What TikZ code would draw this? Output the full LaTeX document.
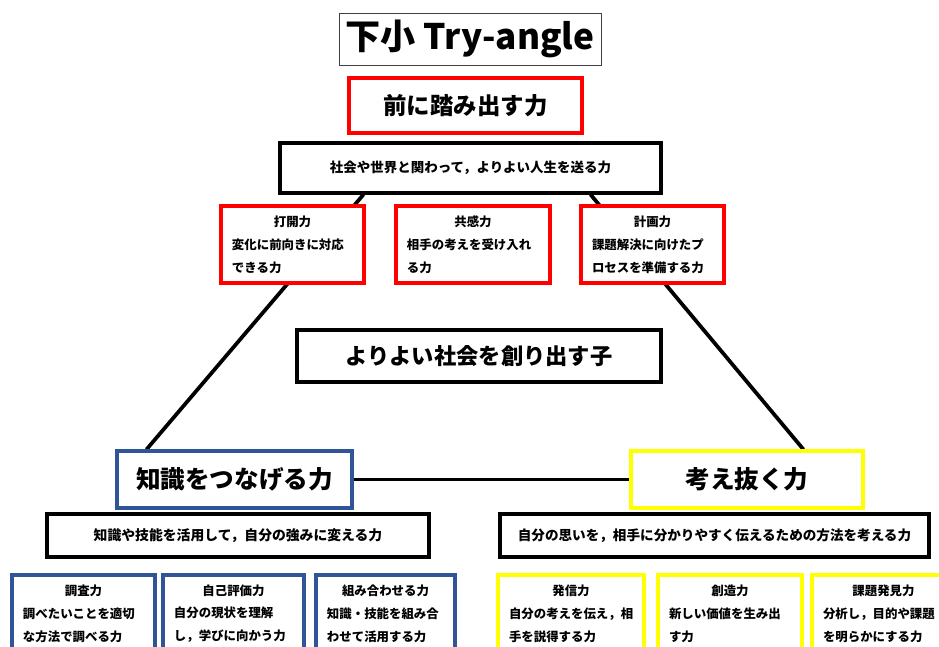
\documentclass[tikz,border=0pt]{standalone}
\usepackage{fontspec}
\setmainfont{Noto Sans CJK JP}
\usetikzlibrary{calc,backgrounds}

\definecolor{tryred}{RGB}{255,0,0}
\definecolor{tryblue}{RGB}{47,85,151}
\definecolor{tryyellow}{RGB}{255,255,0}

\begin{document}
\begin{tikzpicture}[x=0.03cm,y=-0.03cm,
	bigbox/.style={fill=white,line width=2.6pt,inner sep=0pt},
	skillbox/.style={fill=white,line width=2.6pt,inner sep=0pt,align=left,
		minimum height=2.31cm,font=\fontsize{10.6}{19.5}\selectfont\bfseries},
	side/.style={line width=3.2pt},
	]
	\clip (0,0) rectangle (939,647);

	% top
	\node[draw=black!75,line width=0.8pt,fill=white,minimum width=7.86cm,minimum height=1.56cm,
		font=\fontsize{30}{33}\selectfont\bfseries] (title) at (470,39) {下小 Try-angle};
	\node[bigbox,draw=tryred,minimum width=6.99cm,minimum height=1.65cm,
		font=\fontsize{20}{24}\selectfont\bfseries] (mae) at (465.5,105.5) {前に踏み出す力};
	\node[bigbox,draw=black,minimum width=11.43cm,minimum height=1.5cm,
		font=\fontsize{11.5}{14}\selectfont\bfseries] (shakai) at (470.5,168) {社会や世界と関わって，よりよい人生を送る力};

	\begin{scope}[every node/.style={skillbox,draw=tryred}]
		\node[minimum width=4.29cm,text width=3.63cm] (dakai) at (292.5,244.5)
			{{\centering 打開力\par}変化に前向きに対応\\できる力};
		\node[minimum width=4.62cm,text width=3.96cm] (kyokan) at (473,244.5)
			{{\centering 共感力\par}相手の考えを受け入れ\\る力};
		\node[minimum width=4.29cm,text width=3.63cm] (keikaku) at (652.5,244.5)
			{{\centering 計画力\par}課題解決に向けたプ\\ロセスを準備する力};
	\end{scope}

	% middle
	\node[bigbox,draw=black,minimum width=10.92cm,minimum height=1.56cm,
		font=\fontsize{19}{24}\selectfont\bfseries] (kodomo) at (479,356) {よりよい社会を創り出す子};

	% bottom left
	\node[bigbox,draw=tryblue,minimum width=7.05cm,minimum height=1.71cm,
		font=\fontsize{21}{26}\selectfont\bfseries] (chishiki) at (234.5,479.5) {知識をつなげる力};
	\node[bigbox,draw=black,minimum width=11.46cm,minimum height=1.29cm,
		font=\fontsize{11.8}{14}\selectfont\bfseries] (chishikisub) at (238,535.5) {知識や技能を活用して，自分の強みに変える力};

	% bottom right
	\node[bigbox,draw=tryyellow,minimum width=6.96cm,minimum height=1.71cm,
		font=\fontsize{21}{26}\selectfont\bfseries] (kangae) at (747,479.5) {考え抜く力};
	\node[bigbox,draw=black,minimum width=12.87cm,minimum height=1.29cm,
		font=\fontsize{11.6}{14}\selectfont\bfseries] (kangaesub) at (714.5,535.5) {自分の思いを，相手に分かりやすく伝えるための方法を考える力};

	\begin{scope}[every node/.style={skillbox,draw=tryblue}]
		\node[minimum width=4.29cm,text width=3.63cm] (chosa) at (83.5,613.5)
			{{\centering 調査力\par}調べたいことを適切\\な方法で調べる力};
		\node[minimum width=4.23cm,text width=3.57cm] (jiko) at (233.5,613.5)
			{{\centering 自己評価力\par}自分の現状を理解\\し，学びに向かう力};
		\node[minimum width=4.17cm,text width=3.51cm] (kumi) at (385.5,613.5)
			{{\centering 組み合わせる力\par}知識・技能を組み合\\わせて活用する力};
	\end{scope}

	\begin{scope}[every node/.style={skillbox,draw=tryyellow}]
		\node[minimum width=4.38cm,text width=3.72cm] (hasshin) at (571,613.5)
			{{\centering 発信力\par}自分の考えを伝え，相\\手を説得する力};
		\node[minimum width=4.32cm,text width=3.66cm] (sozo) at (730,613.5)
			{{\centering 創造力\par}新しい価値を生み出\\す力};
		\node[minimum width=4.29cm,text width=3.63cm] (kadai) at (883.5,613.5)
			{{\centering 課題発見力\par}分析し，目的や課題\\を明らかにする力};
	\end{scope}

	% triangle
	\begin{scope}[on background layer]
		\draw[side] ($(shakai.south west)+(85,0)$) -- ($(chishiki.north west)+(31,0)$);
		\draw[side] ($(shakai.south east)+(-72,0)$) -- ($(kangae.north west)+(174,0)$);
		\draw[side] (chishiki.east) -- (kangae.west);
	\end{scope}
\end{tikzpicture}
\end{document}
